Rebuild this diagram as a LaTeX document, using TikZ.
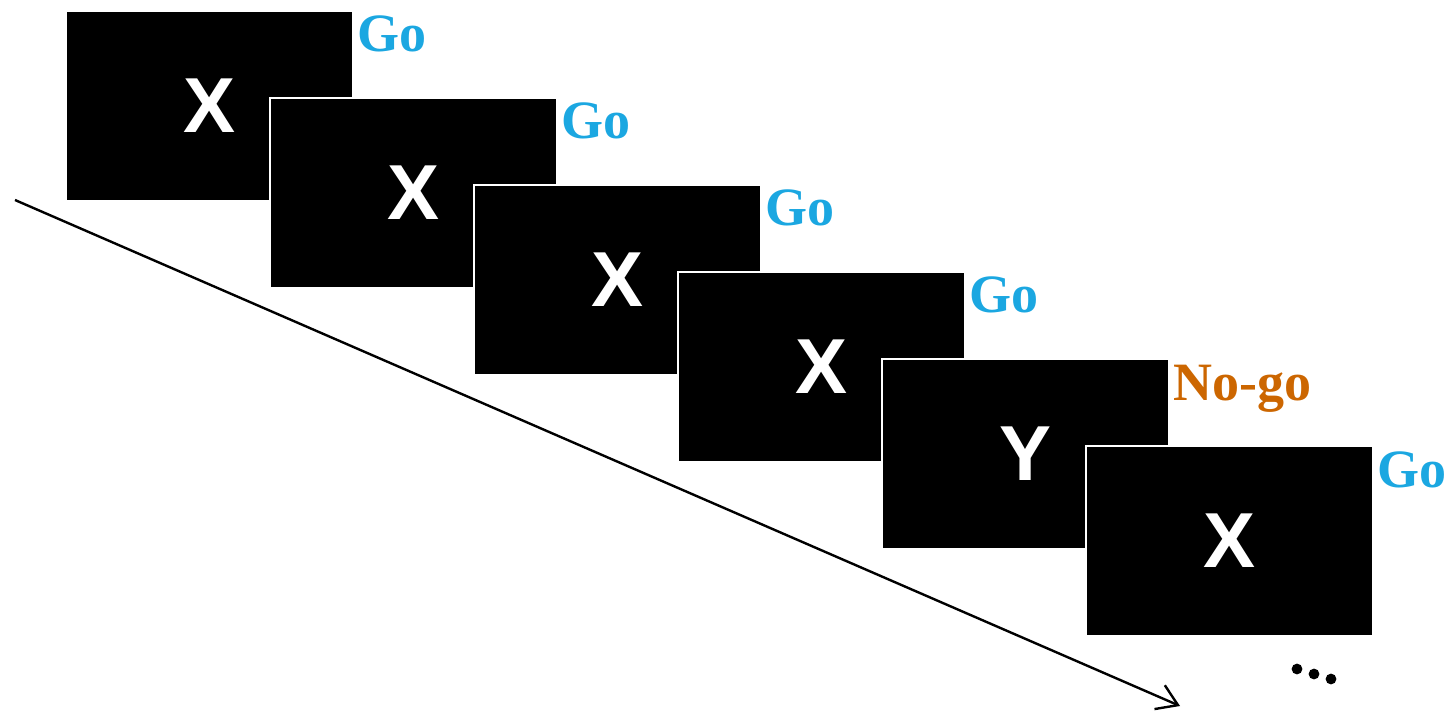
\documentclass[tikz,border=0pt]{standalone}
\usepackage{fontspec}
\usetikzlibrary{arrows.meta}
\newfontfamily\labfont{Liberation Serif}
\newfontfamily\letfont{Liberation Sans}
\definecolor{gocol}{RGB}{27,167,225}
\definecolor{nogocol}{RGB}{204,102,0}
\begin{document}
\begin{tikzpicture}[x=0.5pt,y=-0.5pt,
  screen/.style={anchor=north west,fill=black,draw=white,line width=1pt,
    minimum width=143.5pt,minimum height=95pt,inner sep=0pt,
    text=white,font=\letfont\bfseries\fontsize{39}{39}\selectfont},
  golab/.style={anchor=base west,font=\labfont\bfseries\fontsize{27}{27}\selectfont,inner sep=0pt},
  dotmark/.style={circle,fill=black,inner sep=0pt,minimum size=5.4pt}]
\useasboundingbox (0,0) rectangle (1445,711);
\coordinate (a0) at (15,200);
\coordinate (a1) at (1180,706);
\draw[line width=1.2pt,-{Straight Barb[length=10pt,width=13pt,line width=1.2pt]}] (a0) -- (a1);
\foreach \i/\t/\l/\c in {0/X/Go/gocol,1/X/Go/gocol,2/X/Go/gocol,3/X/Go/gocol,4/Y/No-go/nogocol,5/X/Go/gocol}{
  \node[screen] (s\i) at ({65+204*\i},{10+87*\i}) {\t};
  \node[golab,text=\c] (l\i) at ([xshift=1.5pt,yshift=-21pt]s\i.north east) {\l};
}
\node[dotmark] (d1) at (1297,669) {};
\node[dotmark] (d2) at (1314,674) {};
\node[dotmark] (d3) at (1331,679) {};
\end{tikzpicture}
\end{document}
